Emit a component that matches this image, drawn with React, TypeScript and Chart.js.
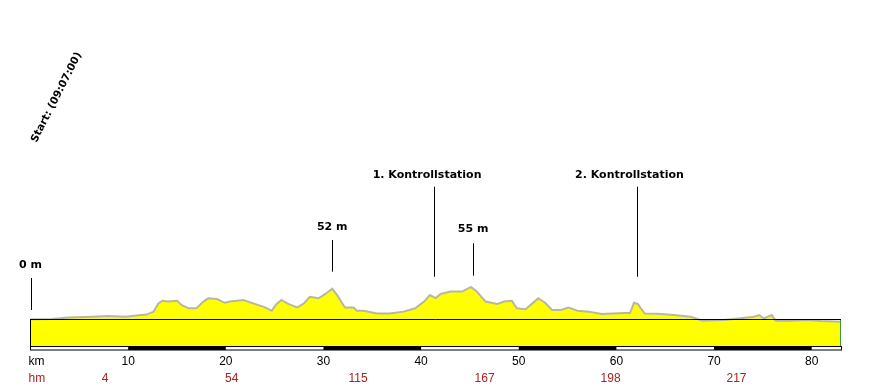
import React, { useEffect, useRef } from "react";
import { Chart, registerables } from "chart.js";

Chart.register(...registerables);

// Profile: distance (km) and elevation (m)
const profileKm = [
  0.0, 2.2, 3.9, 6.3, 8.0, 9.7, 11.1, 11.9, 12.6, 13.1, 13.5, 14.1, 15.0, 15.5, 16.2, 17.0,
  17.7, 18.2, 19.1, 19.9, 20.4, 21.8, 22.8, 23.9, 24.7, 25.2, 25.7, 26.4, 27.3, 28.0, 28.6,
  29.5, 30.2, 30.9, 31.4, 32.2, 33.1, 33.4, 34.1, 35.5, 36.8, 38.2, 39.4, 40.3, 40.9, 41.5,
  42.0, 43.0, 44.2, 45.1, 45.7, 46.6, 47.8, 48.5, 49.3, 49.8, 50.7, 51.4, 52.0, 52.7, 53.4,
  54.3, 55.1, 56.0, 57.2, 58.5, 59.6, 60.9, 61.4, 61.8, 62.2, 62.5, 62.9, 64.2, 65.9, 67.6,
  68.8, 71.0, 72.7, 74.1, 74.6, 75.1, 75.9, 76.3, 77.8, 79.5, 80.9, 83.0,
];
const profileElev = [
  0, 0.5, 3, 4.5, 5.5, 4.5, 7, 8, 13, 27, 31.5, 30, 31.5, 24, 18.6, 18.6,
  30, 35.6, 34.4, 28, 30, 32.7, 27, 21, 14.6, 26, 32.7, 26, 20, 27, 38,
  35.6, 43, 52, 41, 20, 20, 14.6, 14.6, 10, 10, 13, 18.6, 30, 41, 36,
  43, 47, 47, 55, 47, 30, 26, 30, 31.5, 18.6, 17, 27, 35.6, 28, 15.8,
  15.8, 20, 14.6, 13, 9, 10, 10.5, 10.5, 28, 26, 18.6, 10, 9.5, 7.3, 4.5,
  -2.3, -1.2, 1.7, 4.5, 7.3, 1.5, 7.3, -2.3, -2.3, -1.2, -2.9, -4,
];

// Axis labels
const kmTicks = [10, 20, 30, 40, 50, 60, 70, 80];
const hmKm = [7.65, 20.6, 33.55, 46.5, 59.4, 72.3];
const hmLabels = ["4", "54", "115", "167", "198", "217"];
const scaleBandKm = [0, 10, 20, 30, 40, 50, 60, 70, 80, 83];

// Elevation markers: km, label, line bottom/top and label height (in m on the y scale)
const elevMarkKm = [0, 30.9, 45.33];
const elevMarkLabel = ["0 m", "52 m", "55 m"];
const elevMarkFrom = [15.8, 80.7, 73.9];
const elevMarkTo = [70, 134.4, 128.8];
const elevMarkText = [92, 155.6, 152];

// Control stations
const stationKm = [41.33, 62.06];
const stationLabel = ["1. Kontrollstation", "2. Kontrollstation"];
const stationFrom = [72.2, 72.2];
const stationTo = [224.7, 224.7];
const stationText = [244.6, 244.6];

const startLabel = "Start: (09:07:00)";
const startKm = 2.67;
const startElev = 376;

const overlay = {
  id: "overlay",
  afterDatasetsDraw(chart: any) {
    const { ctx, chartArea } = chart;
    const xs = chart.scales.x;
    const ys = chart.scales.y;
    const X = (v: number) => xs.getPixelForValue(v);
    const Y = (v: number) => ys.getPixelForValue(v);
    const left = X(0);
    const right = X(83);
    const y0 = Y(0);
    const bottom = chartArea.bottom;
    ctx.save();

    // zero line and box sides
    ctx.lineWidth = 1;
    ctx.strokeStyle = "#000";
    ctx.beginPath();
    ctx.moveTo(left, Math.round(y0) + 0.5);
    ctx.lineTo(right, Math.round(y0) + 0.5);
    ctx.moveTo(Math.round(left) - 0.5, Math.round(y0));
    ctx.lineTo(Math.round(left) - 0.5, bottom);
    ctx.stroke();
    ctx.strokeStyle = "#3a9a3a";
    ctx.beginPath();
    ctx.moveTo(Math.round(right) - 0.5, Math.round(y0) + 1);
    ctx.lineTo(Math.round(right) - 0.5, bottom);
    ctx.stroke();

    // distance band
    const bTop = Math.round(bottom) + 0.5;
    const bBot = bTop + 3.5;
    ctx.fillStyle = "#000";
    for (let i = 1; i < scaleBandKm.length - 1; i += 2) {
      const a = X(scaleBandKm[i]);
      const b = X(scaleBandKm[i + 1]);
      ctx.fillRect(a, bTop, b - a, bBot - bTop);
    }
    ctx.strokeStyle = "#000";
    ctx.strokeRect(Math.round(left) - 0.5, bTop, right - left + 0.5, bBot - bTop);

    // tick labels
    ctx.font = "12px 'Liberation Sans', Arial, sans-serif";
    ctx.textBaseline = "middle";
    ctx.fillStyle = "#000";
    ctx.textAlign = "left";
    ctx.fillText("km", left - 2, 361.5);
    ctx.textAlign = "center";
    kmTicks.forEach((k) => ctx.fillText(String(k), X(k), 361.5));
    ctx.fillStyle = "#aa2020";
    ctx.textAlign = "left";
    ctx.fillText("hm", left - 2, 378.5);
    ctx.textAlign = "center";
    hmKm.forEach((k, i) => ctx.fillText(hmLabels[i], X(k), 378.5));

    // markers
    ctx.font = "bold 11px 'DejaVu Sans', sans-serif";
    ctx.fillStyle = "#000";
    ctx.strokeStyle = "#000";
    ctx.lineWidth = 1;
    elevMarkKm.forEach((k, i) => {
      const x = Math.round(X(k)) + 0.5;
      ctx.beginPath();
      ctx.moveTo(x, Y(elevMarkFrom[i]));
      ctx.lineTo(x, Y(elevMarkTo[i]));
      ctx.stroke();
      ctx.textAlign = "center";
      ctx.fillText(elevMarkLabel[i], X(k), Y(elevMarkText[i]));
    });
    stationKm.forEach((k, i) => {
      const x = Math.round(X(k)) + 0.5;
      ctx.beginPath();
      ctx.moveTo(x, Y(stationFrom[i]));
      ctx.lineTo(x, Y(stationTo[i]));
      ctx.stroke();
      ctx.textAlign = "center";
      ctx.fillText(stationLabel[i], X(k) - 7, Y(stationText[i]));
    });

    // start label
    ctx.save();
    ctx.font = "bold 10.5px 'DejaVu Sans', sans-serif";
    ctx.translate(X(startKm), Y(startElev));
    ctx.rotate((-63 * Math.PI) / 180);
    ctx.textAlign = "center";
    ctx.textBaseline = "middle";
    ctx.fillText(startLabel, 0, 0);
    ctx.restore();

    ctx.restore();
  },
};

export default function App() {
  const ref = useRef<HTMLCanvasElement>(null);
  useEffect(() => {
    document.body.style.margin = "0";
    const canvas = ref.current!;
    const chart = new Chart(canvas, {
      type: "line",
      data: {
        datasets: [
          {
            data: profileKm.map((k, i) => ({ x: k, y: profileElev[i] })),
            borderColor: "rgb(184,184,160)",
            borderWidth: 2,
            backgroundColor: "#ffff00",
            fill: "start",
            pointRadius: 0,
            tension: 0,
          },
        ],
      },
      options: {
        responsive: false,
        animation: false,
        events: [],
        layout: { padding: { left: 30.5, right: 40, top: 260.3, bottom: 45 } },
        plugins: { legend: { display: false }, tooltip: { enabled: false } },
        scales: {
          x: { type: "linear", min: 0, max: 83, display: false },
          y: { type: "linear", min: -45.25, max: 100, display: false },
        },
      },
      plugins: [overlay],
    });
    return () => chart.destroy();
  }, []);
  return (
    <div style={{ width: 881, height: 391, background: "#fff" }}>
      <canvas ref={ref} width={881} height={391} style={{ display: "block" }} />
    </div>
  );
}
